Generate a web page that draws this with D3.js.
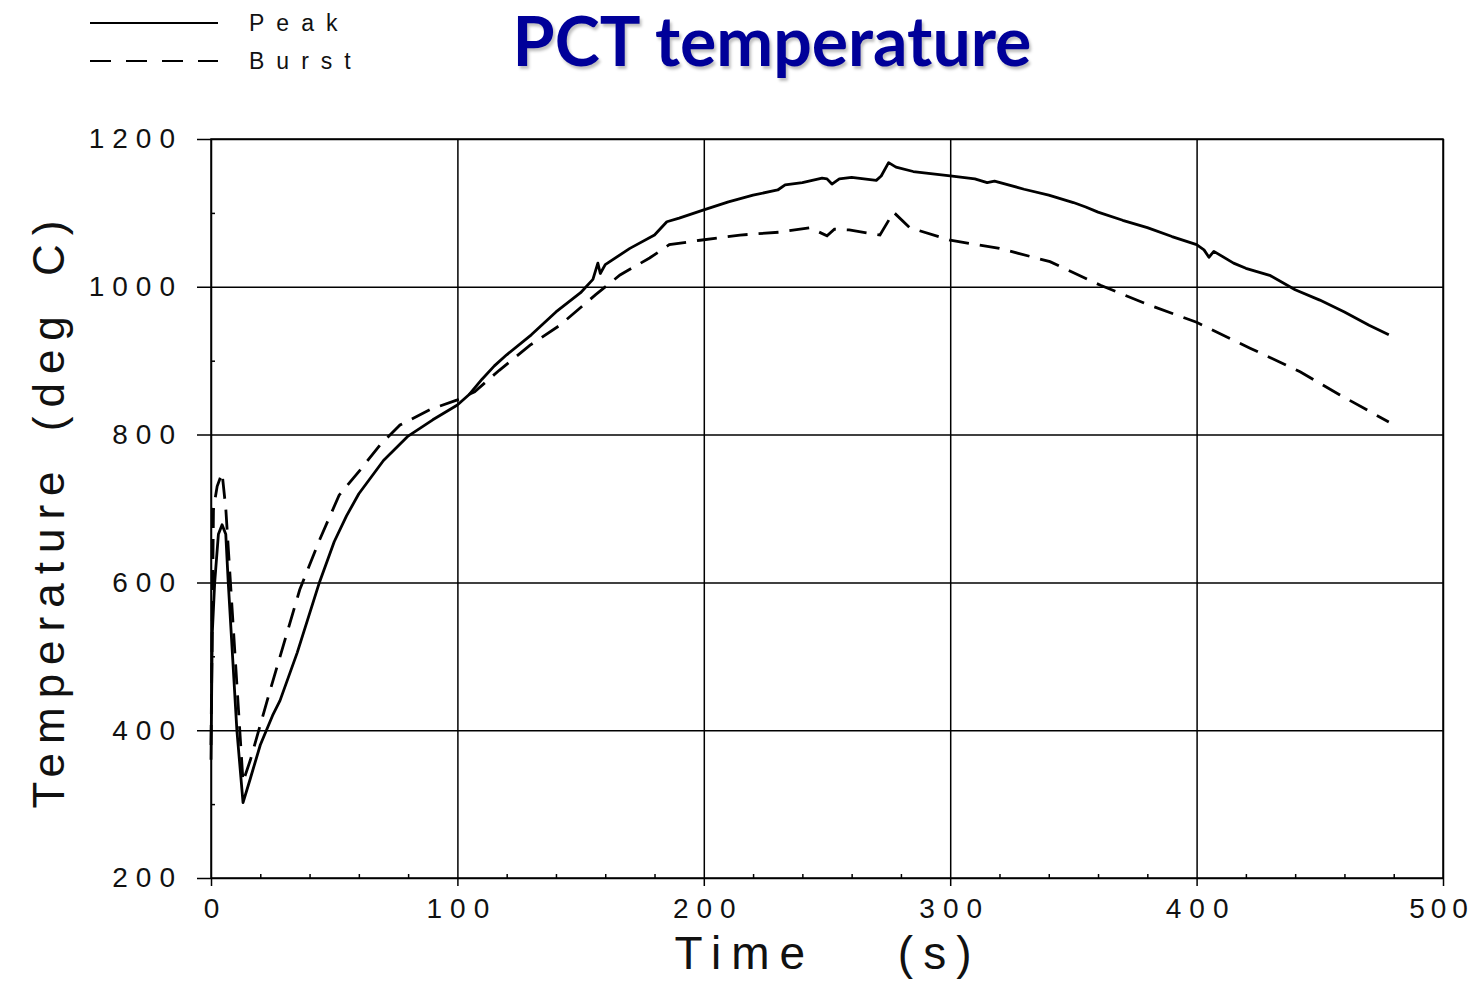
<!DOCTYPE html>
<html>
<head>
<meta charset="utf-8">
<script src="https://cdn.jsdelivr.net/npm/d3@7"></script>
<style>
  body { margin: 0; background: #fff; }
  svg text { font-family: "Liberation Sans", Arial, sans-serif; }
</style>
</head>
<body>
<script>
// Peak (solid) and Burst (dashed) temperature traces, time in s, temp in deg C
var peakTime = [0, 0.5, 1.5, 3, 4.5, 6, 7, 10.5, 13, 16, 20, 25, 28, 35, 44, 50, 55, 60, 70, 80, 90, 100,
    105, 110, 115, 120, 130, 140, 150, 155, 157, 158, 160, 170, 180, 185, 190, 200, 210, 220, 230, 233,
    240, 248, 250, 252, 255, 260, 270, 272, 275, 278, 285, 300, 310, 315, 318, 330, 340, 350, 355, 360,
    370, 380, 390, 400, 403, 405, 407, 415, 420, 430, 440, 450, 460, 470, 478];
var peakTemp = [360, 530, 600, 665, 678, 665, 600, 400, 302, 335, 380, 420, 440, 505, 600, 655, 690, 720, 765, 798, 820, 840,
    855, 875, 893, 908, 935, 966, 992, 1010, 1032, 1018, 1030, 1052, 1070, 1088, 1093, 1104, 1115, 1124, 1131, 1138,
    1141, 1147, 1146, 1139, 1146, 1148, 1144, 1150, 1168, 1162, 1156, 1150, 1146, 1141, 1143, 1132, 1124, 1114, 1108, 1101,
    1090, 1080, 1068, 1057, 1050, 1040, 1048, 1032, 1025, 1015, 996, 982, 966, 948, 935];

var burstTime = [0, 1, 2.5, 4.5, 6, 13, 16, 24, 36, 44, 52, 60.5, 68.6, 76.7, 89, 100, 107, 117, 129.5, 141.6,
    156, 166, 178, 186, 198.5, 214.7, 231, 243, 250, 253, 259, 271.5, 277, 283.6, 300, 320, 340.5, 361,
    381, 400, 421.7, 442, 458, 478];
var burstTemp = [380, 700, 730, 748, 700, 330, 360, 454, 590, 657, 718, 752, 786, 813, 834, 847, 858, 887, 921, 948,
    989, 1016, 1039, 1057, 1063, 1070, 1074, 1080, 1069, 1078, 1077, 1070, 1101, 1080, 1063, 1052, 1034, 1002,
    975, 952, 917, 885, 854, 817];

var xTicks = [0, 100, 200, 300, 400, 500];
var yTicks = [200, 400, 600, 800, 1000, 1200];
var seriesNames = ["Peak", "Burst"];

var margin = {top: 139, right: 38, bottom: 103, left: 211};
var W = 1481, H = 981;
var width = W - margin.left - margin.right;
var height = H - margin.top - margin.bottom;

var svg = d3.select("body").append("svg")
    .attr("width", W)
    .attr("height", H);

var g = svg.append("g")
    .attr("transform", "translate(" + margin.left + "," + margin.top + ")");

var x = d3.scaleLinear().domain([0, 500]).range([0, width]);
var y = d3.scaleLinear().domain([200, 1200]).range([height, 0]);

// grid + axes
var xAxisGroup = g.append("g")
    .attr("transform", "translate(0," + height + ")")
    .call(d3.axisBottom(x).tickValues(xTicks).tickSize(8).tickPadding(12).tickFormat(d3.format("d")));
xAxisGroup.selectAll(".tick line").attr("y1", -height).attr("y2", 8);
xAxisGroup.selectAll(".tick text")
    .attr("dx", function(d) { return d === 500 ? -2 : 4; })
    .style("letter-spacing", function(d) { return d === 500 ? "6px" : "8px"; });

var yAxisGroup = g.append("g")
    .call(d3.axisLeft(y).tickValues(yTicks).tickSize(8).tickPadding(20).tickFormat(d3.format("d")));
yAxisGroup.selectAll(".tick line").attr("x1", -14).attr("x2", width);
yAxisGroup.selectAll(".tick text").style("letter-spacing", "8px");

// minor ticks
g.append("g")
    .attr("transform", "translate(0," + height + ")")
    .call(d3.axisTop(x).tickValues(d3.range(20, 500, 20).filter(function(d) { return d % 100 !== 0; })).tickSize(4).tickFormat(""))
    .call(function(a) { a.select(".domain").remove(); });
g.append("g")
    .call(d3.axisRight(y).tickValues([300, 500, 700, 900, 1100]).tickSize(4).tickFormat(""))
    .call(function(a) { a.select(".domain").remove(); });

g.selectAll(".domain").remove();
g.selectAll(".tick line").attr("stroke", "#000").attr("stroke-width", 1.5);

g.selectAll(".tick text")
    .attr("fill", "#111")
    .attr("font-size", 28)
    .style("font-family", "'Liberation Sans', Arial, sans-serif");

g.append("rect")
    .attr("width", width)
    .attr("height", height)
    .attr("fill", "none")
    .attr("stroke", "#000")
    .attr("stroke-width", 1.5);

// lines
var line = d3.line()
    .x(function(d) { return x(d[0]); })
    .y(function(d) { return y(d[1]); });

g.append("path")
    .datum(d3.zip(peakTime, peakTemp))
    .attr("fill", "none")
    .attr("stroke", "#000")
    .attr("stroke-width", 2.8)
    .attr("stroke-linejoin", "round")
    .attr("d", line);

g.append("path")
    .datum(d3.zip(burstTime, burstTemp))
    .attr("fill", "none")
    .attr("stroke", "#000")
    .attr("stroke-width", 2.8)
    .attr("stroke-dasharray", "20,11")
    .attr("d", line);

// axis titles
svg.append("text")
    .attr("x", 828)
    .attr("y", 969)
    .attr("text-anchor", "middle")
    .attr("font-size", 46)
    .attr("fill", "#111")
    .style("letter-spacing", "10px")
    .style("word-spacing", "60px")
    .text("Time (s)");

svg.append("text")
    .attr("transform", "translate(64,510) rotate(-90)")
    .attr("text-anchor", "middle")
    .attr("font-size", 44)
    .attr("fill", "#111")
    .style("letter-spacing", "9px")
    .style("word-spacing", "10px")
    .text("Temperature (deg C)");

// title
svg.append("text")
    .attr("x", 772)
    .attr("y", 66)
    .attr("text-anchor", "middle")
    .attr("font-size", 68)
    .attr("font-weight", "bold")
    .attr("fill", "#000099")
    .style("font-family", "Lato, 'Open Sans', sans-serif")
    .style("text-shadow", "2px 3px 3px rgba(0,0,0,0.25)")
    .text("PCT temperature");

// legend
var legend = svg.append("g");
seriesNames.forEach(function(name, i) {
    var ly = 23 + i * 38;
    legend.append("line")
        .attr("x1", 90).attr("x2", 218)
        .attr("y1", ly).attr("y2", ly)
        .attr("stroke", "#000")
        .attr("stroke-width", 1.8)
        .attr("stroke-dasharray", i === 1 ? "21,15" : null);
    legend.append("text")
        .attr("x", 249)
        .attr("y", ly + 8)
        .attr("font-size", 23)
        .attr("fill", "#111")
        .style("letter-spacing", "12px")
        .text(name);
});
</script>
</body>
</html>
